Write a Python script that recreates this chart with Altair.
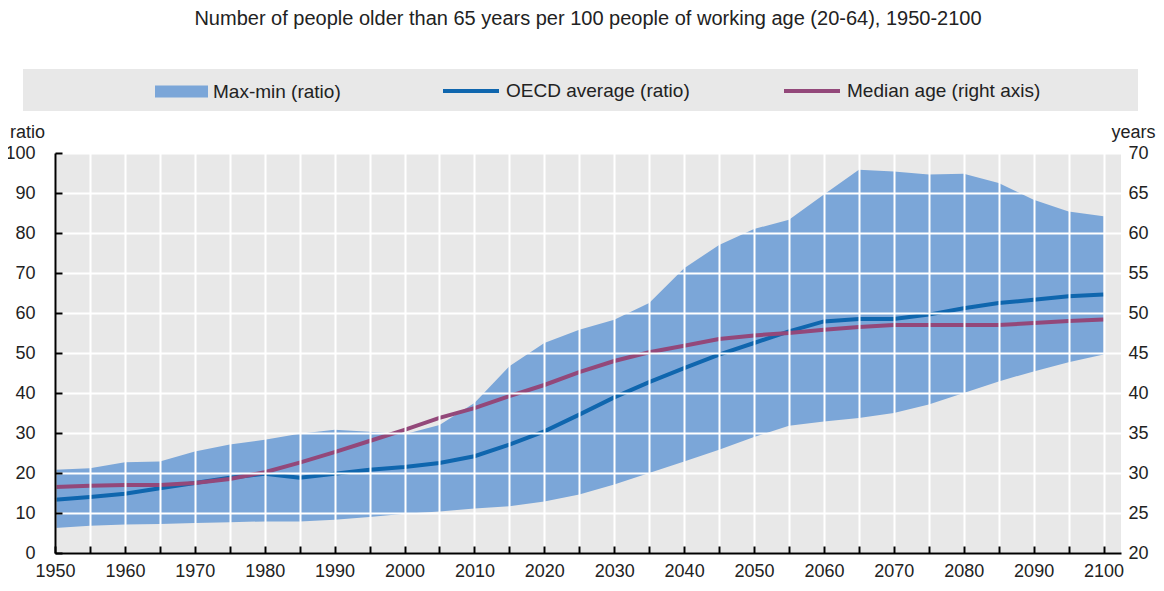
import json
import altair as alt
import pandas as pd

years = [1950, 1955, 1960, 1965, 1970, 1975, 1980, 1985, 1990, 1995,
         2000, 2005, 2010, 2015, 2020, 2025, 2030, 2035, 2040, 2045,
         2050, 2055, 2060, 2065, 2070, 2075, 2080, 2085, 2090, 2095, 2100]
max_ratio = [20.8, 21.2, 22.7, 22.9, 25.4, 27.1, 28.3, 29.8, 30.8, 30.3,
             29.7, 32.0, 37.5, 46.7, 52.5, 55.8, 58.3, 62.5, 71.2, 77.0,
             81.0, 83.3, 89.6, 95.8, 95.4, 94.6, 94.8, 92.5, 88.3, 85.4, 84.2]
min_ratio = [6.25, 6.8, 7.1, 7.25, 7.5, 7.7, 7.9, 7.9, 8.3, 9.0,
             9.8, 10.4, 11.1, 11.7, 12.9, 14.6, 17.1, 20.0, 22.9, 25.8,
             29.0, 31.8, 32.9, 33.75, 35.0, 37.1, 40.0, 42.9, 45.4, 47.7, 49.6]
oecd_avg = [13.3, 14.0, 14.8, 16.2, 17.5, 18.8, 19.8, 18.8, 19.8, 20.8,
            21.5, 22.5, 24.2, 27.1, 30.4, 34.6, 38.9, 42.7, 46.2, 49.6,
            52.5, 55.4, 57.9, 58.5, 58.5, 59.6, 61.2, 62.5, 63.3, 64.2, 64.6]
median_age = [28.25, 28.4, 28.5, 28.5, 28.75, 29.25, 30.1, 31.3, 32.6, 34.0,
              35.4, 36.9, 38.1, 39.6, 41.0, 42.6, 44.0, 45.1, 45.9, 46.75,
              47.2, 47.5, 47.9, 48.25, 48.5, 48.5, 48.5, 48.5, 48.75, 49.0, 49.2]

ratio_ticks = [0, 10, 20, 30, 40, 50, 60, 70, 80, 90, 100]
years_ticks = [20, 25, 30, 35, 40, 45, 50, 55, 60, 65, 70]

series_names = ["Max-min (ratio)", "OECD average (ratio)", "Median age (right axis)"]
series_colors = ["#7BA6D8", "#0F66AE", "#93487A"]

df = pd.DataFrame({"year": years, "max": max_ratio, "min": min_ratio,
                   "oecd": oecd_avg, "median": median_age})

FONT = "Liberation Sans"
TXT = "#222222"
W, H = 1066, 400

x_axis = alt.Axis(
    values=years, format="d", title=None,
    labelExpr="datum.value % 10 == 0 ? datum.label : ''",
    labelFlush=False, labelOverlap=False,
    grid=True, gridColor="white", gridWidth=2,
    domainColor="black", domainWidth=2,
    tickColor="black", tickWidth=2, tickSize={"expr": "-7"},
    labelPadding=16, labelFontSize=18, labelFont=FONT, labelColor=TXT,
    zindex=1,
)
x_enc = alt.X("year:Q", scale=alt.Scale(domain=[1950, 2102.5], nice=False, zero=False), axis=x_axis)

left_axis = alt.Axis(
    values=ratio_ticks, title="ratio", titleAngle=0, titleAlign="center",
    titleBaseline="middle", titleX=-28, titleY=-21, titleFontSize=18,
    titleFont=FONT, titleFontWeight="normal", titleColor=TXT,
    grid=True, gridColor="white", gridWidth=2,
    domainColor="black", domainWidth=2,
    tickColor="black", tickWidth=2, tickSize={"expr": "-7"},
    labelPadding=27, labelFontSize=18, labelFont=FONT, labelColor=TXT,
    zindex=1,
)
y_left = alt.Scale(domain=[0, 100], nice=False, zero=False)

right_axis = alt.Axis(
    values=years_ticks, title="years", titleAngle=0, titleAlign="right",
    titleBaseline="middle", titleX=34, titleY=-21, titleFontSize=18,
    titleFont=FONT, titleFontWeight="normal", titleColor=TXT,
    grid=False, domain=False, ticks=False,
    labelPadding=7, labelFontSize=18, labelFont=FONT, labelColor=TXT,
)
y_right = alt.Scale(domain=[20, 70], nice=False, zero=False)

legend_common = dict(orient="none", direction="horizontal", title=None,
                     labelFontSize=19, labelFont=FONT, labelColor=TXT,
                     labelLimit=400, padding=0, labelOffset=5)

bg = alt.Chart(alt.Data(values=[{"k": 1}])).mark_rect(color="#E8E8E8").encode(
    x=alt.value(-32), x2=alt.value(1083), y=alt.value(-84), y2=alt.value(-42)
)

band = alt.Chart(df).transform_calculate(
    s1=json.dumps(series_names[0])
).mark_area(opacity=1).encode(
    x=x_enc,
    y=alt.Y("max:Q", scale=y_left, axis=left_axis),
    y2="min:Q",
    fill=alt.Fill("s1:N",
                  scale=alt.Scale(domain=[series_names[0]], range=[series_colors[0]]),
                  legend=alt.Legend(legendX=100, legendY=-88,
                                    symbolType="M-1,-0.23H1V0.23H-1Z",
                                    symbolSize=2809, symbolStrokeWidth=0,
                                    symbolOpacity=1,
                                    **legend_common)),
)

oecd = alt.Chart(df).transform_calculate(
    s2=json.dumps(series_names[1])
).mark_line(strokeWidth=4).encode(
    x=x_enc,
    y=alt.Y("oecd:Q", scale=y_left, axis=left_axis),
    stroke=alt.Stroke("s2:N",
                      scale=alt.Scale(domain=[series_names[1]], range=[series_colors[1]]),
                      legend=alt.Legend(legendX=386, legendY=-92,
                                        symbolType="stroke", symbolSize=3136,
                                        symbolStrokeWidth=4,
                                        **legend_common)),
)

median = alt.Chart(df).transform_calculate(
    s3=json.dumps(series_names[2])
).mark_line(strokeWidth=4).encode(
    x=x_enc,
    y=alt.Y("median:Q", scale=y_right, axis=right_axis),
    stroke=alt.Stroke("s3:N",
                      scale=alt.Scale(domain=[series_names[2]], range=[series_colors[2]]),
                      legend=alt.Legend(legendX=727, legendY=-92,
                                        symbolType="stroke", symbolSize=3136,
                                        symbolStrokeWidth=4,
                                        **legend_common)),
)

left_layer = alt.layer(bg, band, oecd)

chart = alt.layer(left_layer, median).resolve_scale(
    y="independent", stroke="independent"
).properties(
    width=W, height=H,
    autosize=alt.AutoSizeParams(type="none"),
    padding={"left": 47, "top": 145, "right": 35, "bottom": 30},
    title=alt.TitleParams(
        "Number of people older than 65 years per 100 people of working age (20-64), 1950-2100",
        fontSize=20, font=FONT, fontWeight="normal", color=TXT,
        anchor="middle", offset=32,
    ),
).configure_view(fill="#E8E8E8", stroke=None)

chart.save("out.html", embed_options={"renderer": "svg", "actions": False})
